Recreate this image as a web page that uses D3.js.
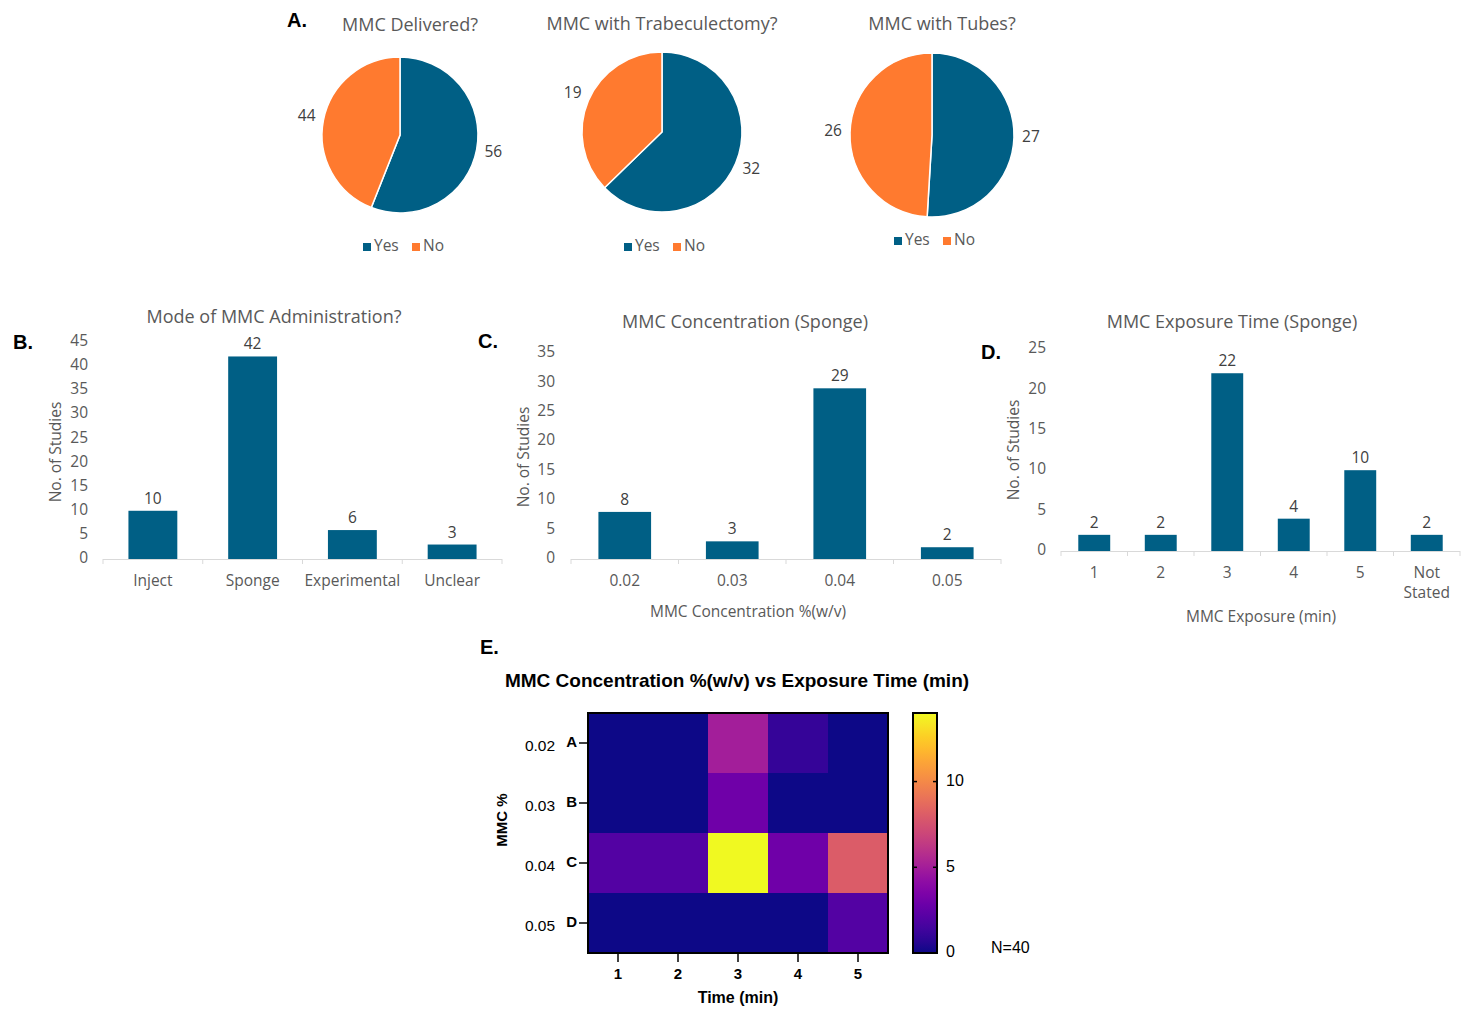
<!DOCTYPE html>
<html><head><meta charset="utf-8">
<script src="https://cdn.jsdelivr.net/npm/d3@7"></script>
<style>
html,body{margin:0;padding:0;background:#fff;}
svg{display:block;}
</style></head>
<body>
<svg id="chart" width="1469" height="1015"></svg>
<script>
// ---------- DATA ----------
const pieTitles = ["MMC Delivered?", "MMC with Trabeculectomy?", "MMC with Tubes?"];
const pieYes = [56, 32, 27];
const pieNo = [44, 19, 26];
const pieLegend = ["Yes", "No"];

const modeTitle = "Mode of MMC Administration?";
const modeCats = ["Inject", "Sponge", "Experimental", "Unclear"];
const modeVals = [10, 42, 6, 3];
const modeTicks = [0, 5, 10, 15, 20, 25, 30, 35, 40, 45];

const concTitle = "MMC Concentration (Sponge)";
const concCats = ["0.02", "0.03", "0.04", "0.05"];
const concVals = [8, 3, 29, 2];
const concTicks = [0, 5, 10, 15, 20, 25, 30, 35];
const concXTitle = "MMC Concentration %(w/v)";

const expTitle = "MMC Exposure Time (Sponge)";
const expCats = ["1", "2", "3", "4", "5", "Not Stated"];
const expVals = [2, 2, 22, 4, 10, 2];
const expTicks = [0, 5, 10, 15, 20, 25];
const expXTitle = "MMC Exposure (min)";

const heatTitle = "MMC Concentration %(w/v) vs Exposure Time (min)";
const heatRows = ["A", "B", "C", "D"];
const heatRowConc = ["0.02", "0.03", "0.04", "0.05"];
const heatCols = ["1", "2", "3", "4", "5"];
const heatValues = [
  [0, 0, 5, 1, 0],
  [0, 0, 3, 0, 0],
  [2, 2, 14, 3, 8],
  [0, 0, 0, 0, 2]
];
const heatScaleMax = 14;
const heatScaleTicks = [0, 5, 10];
const heatN = "N=40";

// ---------- STYLE ----------
const BLUE = "#005F85", ORANGE = "#FF7A2F";
const GRAY = "#595959", DARK = "#404040";
const SANS = "'Open Sans', 'Noto Sans', sans-serif";
const ARIAL = "'Liberation Sans', Arial, sans-serif";

const svg = d3.select("#chart");

function panelLetter(txt, x, y) {
  svg.append("text").attr("x", x).attr("y", y).text(txt)
    .attr("font-family", ARIAL).attr("font-weight", "bold")
    .attr("font-size", 20).attr("fill", "#000");
}

// ---------- PIES ----------
const pieLayout = [
  {cx: 400, cy: 135, r: 78, tx: 410, ty: 31, ly: 247, lx: 403},
  {cx: 662, cy: 132, r: 80, tx: 662, ty: 30, ly: 247, lx: 664},
  {cx: 932, cy: 135, r: 82, tx: 942, ty: 30, ly: 241, lx: 934}
];
panelLetter("A.", 287, 27);

pieTitles.forEach((t, i) => {
  const L = pieLayout[i];
  const g = svg.append("g").attr("transform", `translate(${L.cx},${L.cy})`);
  const data = [pieYes[i], pieNo[i]];
  const arcs = d3.pie().sort(null).startAngle(0).endAngle(2 * Math.PI)(data);
  const arc = d3.arc().innerRadius(0).outerRadius(L.r);
  const labelArc = d3.arc().innerRadius(L.r + 17).outerRadius(L.r + 17);
  g.selectAll("path").data(arcs).join("path")
    .attr("d", arc).attr("fill", (d, j) => j === 0 ? BLUE : ORANGE)
    .attr("stroke", "#fff").attr("stroke-width", 1.5);
  g.selectAll("text.v").data(arcs).join("text").attr("class", "v")
    .attr("transform", d => `translate(${labelArc.centroid(d)})`)
    .attr("text-anchor", "middle").attr("dominant-baseline", "middle")
    .attr("font-family", SANS).attr("font-size", 15.5).attr("fill", DARK)
    .text(d => d.data);
  svg.append("text").attr("x", L.tx).attr("y", L.ty).attr("text-anchor", "middle")
    .attr("font-family", SANS).attr("font-size", 18).attr("fill", GRAY).text(t);
  // legend
  const lg = svg.append("g").attr("transform", `translate(${L.lx - 40},${L.ly})`);
  const offs = [0, 49];
  pieLegend.forEach((lab, j) => {
    lg.append("rect").attr("x", offs[j]).attr("y", -4).attr("width", 8).attr("height", 8)
      .attr("fill", j === 0 ? BLUE : ORANGE);
    lg.append("text").attr("x", offs[j] + 11).attr("y", 0).attr("dominant-baseline", "middle")
      .attr("font-family", SANS).attr("font-size", 15.5).attr("fill", GRAY).text(lab);
  });
});

// ---------- BAR CHARTS ----------
function barChart(o) {
  const y = d3.scaleLinear().domain([0, o.ticks[o.ticks.length - 1]]).range([o.y0, o.y1]);
  const x = d3.scaleBand().domain(o.cats).range([o.x0, o.x1]).paddingInner(o.pad).paddingOuter(o.pad / 2);
  const g = svg.append("g");
  g.append("line").attr("x1", o.x0).attr("x2", o.x1).attr("y1", o.y0 + 0.5).attr("y2", o.y0 + 0.5)
    .attr("stroke", "#d9d9d9").attr("stroke-width", 1);
  const step = (o.x1 - o.x0) / o.cats.length;
  d3.range(o.cats.length + 1).forEach(k => {
    g.append("line").attr("x1", o.x0 + k * step).attr("x2", o.x0 + k * step)
      .attr("y1", o.y0).attr("y2", o.y0 + 5).attr("stroke", "#d9d9d9");
  });
  g.selectAll("text.yt").data(o.ticks).join("text").attr("class", "yt")
    .attr("x", o.yLabX).attr("y", d => y(d)).attr("text-anchor", "end")
    .attr("dominant-baseline", "middle").attr("font-family", SANS).attr("font-size", 15.5)
    .attr("fill", GRAY).text(d => d);
  g.selectAll("rect.bar").data(o.vals).join("rect").attr("class", "bar")
    .attr("x", (d, i) => x(o.cats[i])).attr("width", x.bandwidth())
    .attr("y", d => y(d)).attr("height", d => y(0) - y(d)).attr("fill", BLUE);
  g.selectAll("text.val").data(o.vals).join("text").attr("class", "val")
    .attr("x", (d, i) => x(o.cats[i]) + x.bandwidth() / 2).attr("y", d => y(d) - 7)
    .attr("text-anchor", "middle").attr("font-family", SANS).attr("font-size", 15.5)
    .attr("fill", DARK).text(d => d);
  o.cats.forEach(c => {
    const parts = c === "Not Stated" ? ["Not", "Stated"] : [c];
    parts.forEach((p, k) => {
      g.append("text").attr("x", x(c) + x.bandwidth() / 2).attr("y", o.catY + k * 20)
        .attr("text-anchor", "middle").attr("font-family", SANS).attr("font-size", 15.5)
        .attr("fill", GRAY).text(p);
    });
  });
  g.append("text").attr("x", o.titleX).attr("y", o.titleY).attr("text-anchor", "middle")
    .attr("font-family", SANS).attr("font-size", 18).attr("fill", GRAY).text(o.title);
  g.append("text").attr("transform", `translate(${o.ylX},${o.ylY}) rotate(-90)`)
    .attr("text-anchor", "middle").attr("dominant-baseline", "middle")
    .attr("font-family", SANS).attr("font-size", 15.5).attr("fill", GRAY).text("No. of Studies");
  if (o.xTitle) {
    g.append("text").attr("x", o.xtX).attr("y", o.xtY).attr("text-anchor", "middle")
      .attr("font-family", SANS).attr("font-size", 15.5).attr("fill", GRAY).text(o.xTitle);
  }
}

panelLetter("B.", 13, 349);
barChart({cats: modeCats, vals: modeVals, ticks: modeTicks, title: modeTitle,
  x0: 103, x1: 502, y0: 559, y1: 342, pad: 0.51, yLabX: 88, catY: 586,
  titleX: 274, titleY: 323, ylX: 57, ylY: 452});

panelLetter("C.", 478, 348);
barChart({cats: concCats, vals: concVals, ticks: concTicks, title: concTitle,
  x0: 571, x1: 1001, y0: 559, y1: 353, pad: 0.51, yLabX: 555, catY: 586,
  titleX: 745, titleY: 328, ylX: 525, ylY: 457, xTitle: concXTitle, xtX: 748, xtY: 617});

panelLetter("D.", 981, 359);
barChart({cats: expCats, vals: expVals, ticks: expTicks, title: expTitle,
  x0: 1061, x1: 1460, y0: 551, y1: 349, pad: 0.52, yLabX: 1046, catY: 578,
  titleX: 1232, titleY: 328, ylX: 1015, ylY: 450, xTitle: expXTitle, xtX: 1261, xtY: 622});

// ---------- HEATMAP ----------
panelLetter("E.", 480, 654);
const hx = d3.scaleBand().domain(heatCols).range([588, 888]);
const hy = d3.scaleBand().domain(heatRows).range([713, 953]);
const color = d3.scaleSequential(d3.interpolatePlasma).domain([0, heatScaleMax]);
const hg = svg.append("g");
heatValues.forEach((row, ri) => {
  row.forEach((v, ci) => {
    hg.append("rect").attr("x", hx(heatCols[ci])).attr("y", hy(heatRows[ri]))
      .attr("width", hx.bandwidth() + 0.5).attr("height", hy.bandwidth() + 0.5)
      .attr("fill", color(v));
  });
});
hg.append("rect").attr("x", 588).attr("y", 713).attr("width", 300).attr("height", 240)
  .attr("fill", "none").attr("stroke", "#000").attr("stroke-width", 2);
heatRows.forEach((r, i) => {
  const yy = hy(r) + hy.bandwidth() / 2;
  hg.append("line").attr("x1", 579).attr("x2", 588).attr("y1", yy).attr("y2", yy)
    .attr("stroke", "#000").attr("stroke-width", 1.5);
  hg.append("text").attr("x", 577).attr("y", yy).attr("text-anchor", "end")
    .attr("dominant-baseline", "middle").attr("font-family", ARIAL).attr("font-weight", "bold")
    .attr("font-size", 15).attr("fill", "#000").text(r);
  hg.append("text").attr("x", 540).attr("y", yy + 4).attr("text-anchor", "middle")
    .attr("dominant-baseline", "middle").attr("font-family", ARIAL)
    .attr("font-size", 15.5).attr("fill", "#000").text(heatRowConc[i]);
});
heatCols.forEach(c => {
  const xx = hx(c) + hx.bandwidth() / 2;
  hg.append("line").attr("x1", xx).attr("x2", xx).attr("y1", 953).attr("y2", 962)
    .attr("stroke", "#000").attr("stroke-width", 1.5);
  hg.append("text").attr("x", xx).attr("y", 979).attr("text-anchor", "middle")
    .attr("font-family", ARIAL).attr("font-weight", "bold").attr("font-size", 15)
    .attr("fill", "#000").text(c);
});
hg.append("text").attr("x", 738).attr("y", 1003).attr("text-anchor", "middle")
  .attr("font-family", ARIAL).attr("font-weight", "bold").attr("font-size", 16)
  .attr("fill", "#000").text("Time (min)");
hg.append("text").attr("transform", "translate(503,820) rotate(-90)")
  .attr("text-anchor", "middle").attr("dominant-baseline", "middle")
  .attr("font-family", ARIAL).attr("font-weight", "bold").attr("font-size", 15)
  .attr("fill", "#000").text("MMC %");
hg.append("text").attr("x", 737).attr("y", 687).attr("text-anchor", "middle")
  .attr("font-family", ARIAL).attr("font-weight", "bold").attr("font-size", 19)
  .attr("fill", "#000").text(heatTitle);

// colorbar
const defs = svg.append("defs");
const grad = defs.append("linearGradient").attr("id", "cb").attr("x1", 0).attr("y1", 1).attr("x2", 0).attr("y2", 0);
d3.range(0, 1.0001, 0.05).forEach(t => {
  grad.append("stop").attr("offset", t).attr("stop-color", d3.interpolatePlasma(t));
});
const cy = d3.scaleLinear().domain([0, heatScaleMax]).range([953, 713]);
hg.append("rect").attr("x", 913).attr("y", 713).attr("width", 24).attr("height", 240)
  .attr("fill", "url(#cb)").attr("stroke", "#000").attr("stroke-width", 2);
heatScaleTicks.forEach(t => {
  if (t > 0) {
    hg.append("line").attr("x1", 913).attr("x2", 917).attr("y1", cy(t)).attr("y2", cy(t))
      .attr("stroke", "#000").attr("stroke-width", 1.5);
    hg.append("line").attr("x1", 933).attr("x2", 937).attr("y1", cy(t)).attr("y2", cy(t))
      .attr("stroke", "#000").attr("stroke-width", 1.5);
  }
  hg.append("text").attr("x", 946).attr("y", cy(t)).attr("dominant-baseline", "middle")
    .attr("font-family", ARIAL).attr("font-size", 16).attr("fill", "#000").text(t);
});
hg.append("text").attr("x", 991).attr("y", 949).attr("dominant-baseline", "middle")
  .attr("font-family", ARIAL).attr("font-size", 16).attr("fill", "#000").text(heatN);
</script>
</body></html>
